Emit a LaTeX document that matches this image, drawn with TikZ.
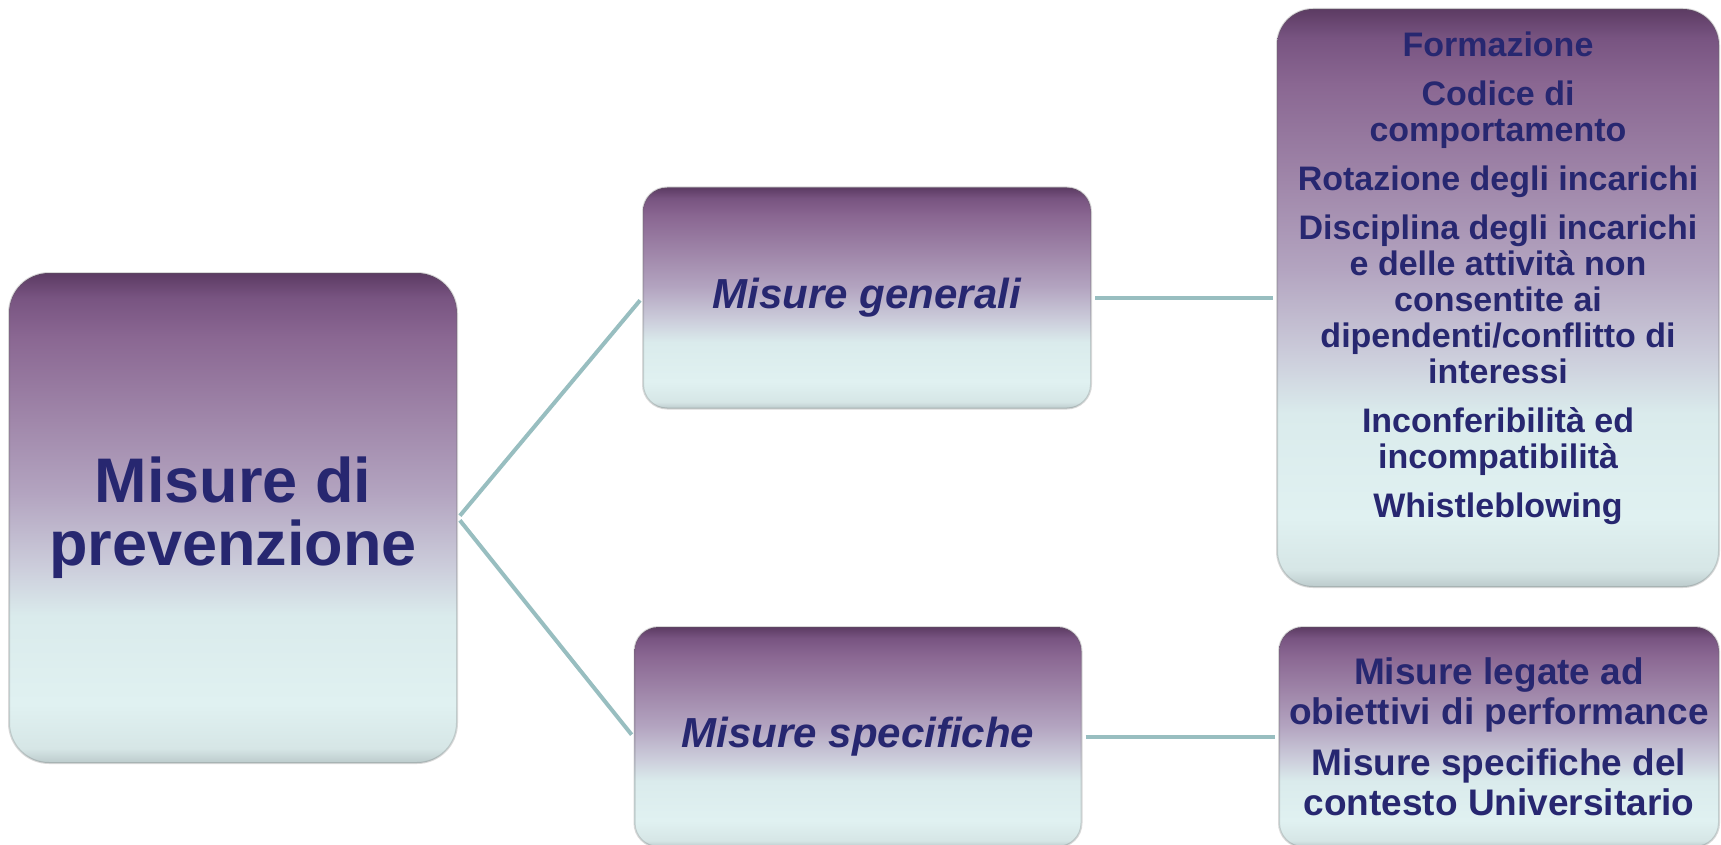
\documentclass[tikz,border=0pt]{standalone}
\usepackage{fontspec}
\setmainfont{Liberation Sans}
\usetikzlibrary{arrows.meta}
\definecolor{navy}{RGB}{39,39,112}
\definecolor{linkteal}{RGB}{152,190,192}
\definecolor{shA}{HTML}{BCCBCC}
\definecolor{shB}{HTML}{D6E6E6}
\definecolor{shC}{HTML}{E0F1F1}
\definecolor{shD}{HTML}{DAEBEC}
\definecolor{shE}{HTML}{CCCDDB}
\definecolor{shF}{HTML}{B3A4C0}
\definecolor{shG}{HTML}{A087AA}
\definecolor{shH}{HTML}{8A6792}
\definecolor{shI}{HTML}{785481}
\definecolor{shJ}{HTML}{5C3B63}
\pgfdeclareverticalshading{boxshade}{100bp}{color(0bp)=(shA); color(25bp)=(shA); color(26.5bp)=(shB); color(31bp)=(shC); color(40bp)=(shD); color(45bp)=(shE); color(52.5bp)=(shF); color(60bp)=(shG); color(68.5bp)=(shH); color(72.5bp)=(shI); color(75bp)=(shJ); color(100bp)=(shJ)}
\tikzstyle{boxbase} = [draw=black!60, draw opacity=0.25, line width=2pt, shading=boxshade, text=navy, align=center, inner sep=0pt]
\tikzstyle{ndmain} = [boxbase, rounded corners=40pt, minimum width=448pt, minimum height=490pt, font=\fontsize{63}{63}\selectfont\bfseries]
\tikzstyle{ndsub} = [boxbase, rounded corners=24pt, minimum width=448pt, minimum height=221pt, font=\fontsize{42}{46}\selectfont\bfseries\itshape]
\tikzstyle{ndlist} = [boxbase, rounded corners=36pt, font=\bfseries]
\tikzstyle{link} = [draw=linkteal, line width=4pt, shorten <=3pt, shorten >=3pt]

\begin{document}
\begin{tikzpicture}[x=1pt,y=-1pt]
        \useasboundingbox (0,0) rectangle (1721,845);
        \node[ndmain] (prev) at (233,518) {Misure di\\prevenzione};
        \node[ndsub] (gen) at (867,298) {Misure generali};
        \node[ndsub, minimum width=447pt, minimum height=220pt] (spec) at (858,737) {Misure specifiche};
        \node[ndlist, minimum width=442pt, minimum height=578pt] (genlist) at (1498,298) {%
          \begin{minipage}[c][578pt][t]{442pt}\centering
          \fontsize{34}{36}\selectfont
          \vspace*{23pt}%
          Formazione\\[13pt]
          Codice di\\comportamento\\[13pt]
          Rotazione degli incarichi\\[13pt]
          Disciplina degli incarichi\\e delle attività non\\consentite ai\\dipendenti/conflitto di\\interessi\\[13pt]
          Inconferibilità ed\\incompatibilità\\[13pt]
          Whistleblowing
          \end{minipage}};
        \node[ndlist, rounded corners=24pt, minimum width=440pt, minimum height=220pt,
              font=\fontsize{37}{40}\selectfont\bfseries] (speclist) at (1499,737)
              {Misure legate ad\\obiettivi di performance\\[11pt]Misure specifiche del\\contesto Universitario};
        \draw[link] (prev.east) edge (gen.west);
        \draw[link] (prev.east) edge (spec.west);
        \draw[link] (gen) edge (genlist);
        \draw[link] (spec) edge (speclist);
      \end{tikzpicture}
\end{document}
